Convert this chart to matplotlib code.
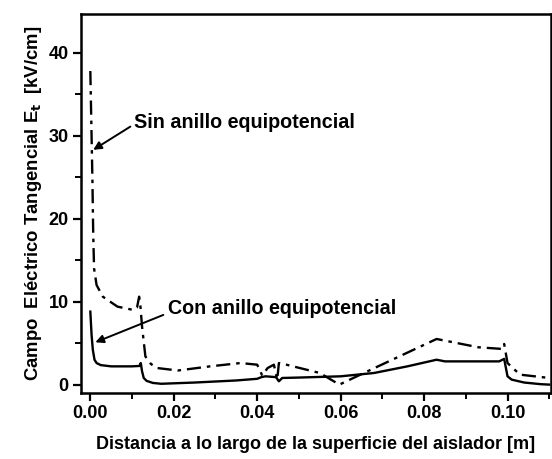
import matplotlib
matplotlib.use("Agg")
import matplotlib.pyplot as plt
from matplotlib.ticker import MultipleLocator

plt.rcParams['font.family'] = ['Liberation Sans', 'DejaVu Sans']
plt.rcParams['font.weight'] = 'bold'
plt.rcParams['mathtext.default'] = 'bf'

# Con anillo equipotencial (solid)
x_con = [0.0000, 0.0003, 0.0006, 0.0010, 0.0015, 0.0025, 0.0050, 0.0100, 0.0118, 0.0121,
         0.0124, 0.0128, 0.0135, 0.0150, 0.0170, 0.0250, 0.0350, 0.0400, 0.0410, 0.0420,
         0.0445, 0.0452, 0.0460, 0.0500, 0.0600, 0.0680, 0.0760, 0.0830, 0.0850, 0.0980,
         0.0992, 0.1000, 0.1010, 0.1040, 0.1080, 0.1100]
y_con = [8.8, 6.0, 4.2, 3.0, 2.6, 2.35, 2.2, 2.2, 2.25, 2.6,
         1.6, 0.8, 0.45, 0.2, 0.1, 0.25, 0.5, 0.7, 0.9, 1.0,
         0.9, 0.4, 0.8, 0.85, 1.0, 1.4, 2.2, 3.0, 2.8, 2.8,
         3.1, 1.0, 0.6, 0.25, 0.05, 0.0]

# Sin anillo equipotencial (dash-dot)
x_sin = [0.0000, 0.0003, 0.0005, 0.0007, 0.0009, 0.0015, 0.0030, 0.0065, 0.0103, 0.0112,
         0.0117, 0.0120, 0.0124, 0.0132, 0.0145, 0.0160, 0.0210, 0.0287, 0.0360, 0.0400,
         0.0412, 0.0425, 0.0440, 0.0448, 0.0452, 0.0470, 0.0550, 0.0597, 0.0660, 0.0830,
         0.0930, 0.0987, 0.0992, 0.1000, 0.1030, 0.1100]
y_sin = [37.8, 30.0, 24.7, 18.0, 14.0, 12.0, 10.6, 9.4, 9.0, 9.3,
         10.6, 9.5, 7.0, 3.4, 2.5, 2.0, 1.7, 2.2, 2.6, 2.4,
         1.1, 2.0, 2.4, 0.6, 2.6, 2.4, 1.4, 0.0, 1.5, 5.5,
         4.5, 4.3, 4.9, 2.6, 1.2, 0.8]

x_ticks = [0.00, 0.02, 0.04, 0.06, 0.08, 0.10]
y_ticks = [0, 10, 20, 30, 40]

fig = plt.figure(figsize=(5.52, 4.59), dpi=100)
ax = fig.add_axes([0.147, 0.144, 0.851, 0.826])

ax.plot(x_con, y_con, color='black', lw=1.7, linestyle='-')
ax.plot(x_sin, y_sin, color='black', lw=1.7, linestyle=(0, (6, 2.5, 1.5, 2.5)))

ax.set_xlim(-0.0022, 0.1104)
ax.set_ylim(-1.0, 44.7)
ax.set_xticks(x_ticks)
ax.set_xticklabels([f"{v:.2f}" for v in x_ticks])
ax.set_yticks(y_ticks)
ax.xaxis.set_minor_locator(MultipleLocator(0.01))
ax.yaxis.set_minor_locator(MultipleLocator(5))
ax.tick_params(which='major', direction='out', length=6, width=1.6, labelsize=13, pad=3,
               top=False, right=False)
ax.tick_params(which='minor', direction='out', length=4, width=1.4, top=False, right=False)
for lab in ax.get_xticklabels() + ax.get_yticklabels():
    lab.set_fontweight('bold')
for s in ax.spines.values():
    s.set_linewidth(1.8)

ax.set_xlabel("Distancia a lo largo de la superficie del aislador [m]", fontsize=13,
              fontweight='bold', labelpad=10)
ax.set_ylabel("Campo  Eléctrico Tangencial E$_\\mathbf{t}$  [kV/cm]", fontsize=13.3,
              fontweight='bold', labelpad=3)

ax.text(0.0104, 31.6, "Sin anillo equipotencial", fontsize=14.2, fontweight='bold',
        va='center', ha='left')
ax.text(0.0185, 9.2, "Con anillo equipotencial", fontsize=14.2, fontweight='bold',
        va='center', ha='left')
ax.annotate("", xy=(0.0007, 28.3), xytext=(0.0096, 31.1),
            arrowprops=dict(arrowstyle='-|>', color='black', lw=1.4, mutation_scale=12,
                            shrinkA=0, shrinkB=0))
ax.annotate("", xy=(0.0012, 5.1), xytext=(0.0175, 8.4),
            arrowprops=dict(arrowstyle='-|>', color='black', lw=1.4, mutation_scale=12,
                            shrinkA=0, shrinkB=0))

fig.savefig("out.png", dpi=100)
